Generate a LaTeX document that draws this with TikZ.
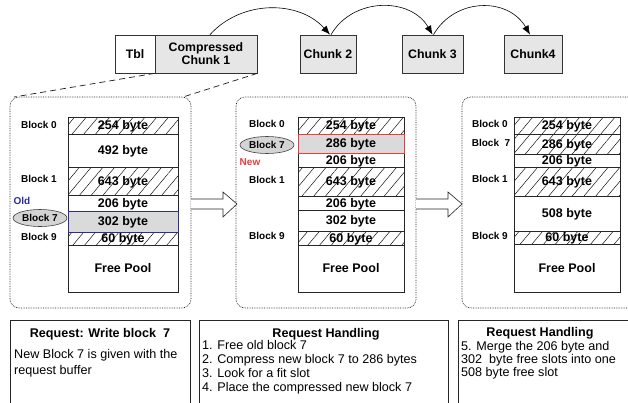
\documentclass[tikz,border=0pt]{standalone}
\usepackage{fontspec}
\setmainfont{Liberation Sans}
\usetikzlibrary{patterns.meta,arrows.meta,shapes.geometric}
\definecolor{boxgray}{HTML}{E6E6E6}
\definecolor{cellgray}{HTML}{DADADA}
\definecolor{ellgray}{HTML}{D4D4D4}
\definecolor{oldblue}{HTML}{2B2B9E}
\definecolor{newred}{HTML}{F03A3A}
\newcommand\memcell[7]{\node[cell,#6,minimum width={(#4-#2)*1pt},minimum height={(#5-#3)*1pt}] (#1) at ({(#2+#4)/2},{(#3+#5)/2}) {#7};}
\begin{document}
\begin{tikzpicture}[x=1pt,y=-1pt,
  chunk/.style={draw=black!80, line width=0.7pt, fill=boxgray, inner sep=0, align=center,
    font=\fontsize{12.3}{13}\selectfont\bfseries},
  panel/.style={draw=black!90, densely dotted, line width=0.7pt, rounded corners=9pt},
  cell/.style={draw=black!85, line width=0.6pt, inner sep=0,
    font=\fontsize{12.5}{12}\selectfont\bfseries, text height=8.9pt, text depth=0pt},
  hatch/.style={pattern={Lines[angle=50,distance=9pt,line width=0.45pt]}},
  plain/.style={fill=white},
  lbl/.style={font=\fontsize{10}{10}\selectfont\bfseries, inner sep=0, text height=7.2pt, text depth=0pt},
  blk/.style={ellipse, draw=black!75, line width=0.6pt, fill=ellgray, inner sep=0,
    minimum width=54pt, minimum height=17pt,
    font=\fontsize{10}{10}\selectfont\bfseries, text height=7.2pt, text depth=0pt},
  curve/.style={line width=0.6pt, -{Latex[length=9pt,width=7pt]}},
  zoomline/.style={dash pattern=on 6pt off 4pt, line width=0.7pt, draw=black!90},
  hollow/.style={draw=black!85, line width=0.6pt, fill=white},
  reqbox/.style={draw=black!85, line width=0.7pt},
  ttl/.style={font=\fontsize{12.6}{12}\selectfont\bfseries, inner sep=0, anchor=base},
  ln/.style={font=\fontsize{12.6}{12}\selectfont, inner sep=0, anchor=base west}]
\useasboundingbox (0,0) rectangle (628,402);
\clip (0,0) rectangle (628,402);

% top chunk boxes
\node[chunk, fill=white, minimum width=40pt, minimum height=38pt] (tbl) at (135,54) {Tbl};
\node[chunk, minimum width=102pt, minimum height=38pt] (c1) at (206,54) {Compressed\\Chunk 1};
\node[chunk, minimum width=56pt, minimum height=38pt] (c2) at (328,54) {Chunk 2};
\node[chunk, minimum width=61pt, minimum height=38pt] (c3) at (432.5,54) {Chunk 3};
\node[chunk, minimum width=58pt, minimum height=38pt] (c4) at (533,54) {Chunk4};

\draw[curve] ([xshift=4pt]c1.north) to[out=48,in=132] ([xshift=2pt]c2.north);
\draw[curve] ([xshift=3pt]c2.north) to[out=60,in=120,looseness=1.1] (c3.north);
\draw[curve] ([xshift=1pt]c3.north) to[out=60,in=120,looseness=1.15] ([xshift=-3pt]c4.north);

% panels
\draw[panel] (10,97) rectangle (191,308);
\draw[panel] (236,97) rectangle (416,308);
\draw[panel] (462,97) rectangle (640,308);
\coordinate (p1tl) at (14,97);
\coordinate (p1tr) at (183,97);
\draw[zoomline] (c1.south west) -- (p1tl);
\draw[zoomline] (c1.south east) -- (p1tr);

% panel 1 column
\memcell{a1}{68}{117}{178}{134}{hatch}{254 byte}
\memcell{a2}{68}{134}{178}{167}{plain}{492 byte}
\memcell{a3}{68}{167}{178}{195}{hatch}{643 byte}
\memcell{a4}{68}{195}{178}{211}{plain}{206 byte}
\memcell{a6}{68}{232}{178}{245}{hatch}{60 byte}
\memcell{a7}{68}{245}{178}{292}{plain}{Free Pool}
\memcell{a5}{68}{211}{178}{232}{fill=cellgray,draw=oldblue}{302 byte}
\node[lbl] (l10) at (39,125) {Block 0};
\node[lbl] (l11) at (39,179) {Block 1};
\node[lbl, text=oldblue] (old) at (22,201) {Old};
\node[blk] (l17) at (40,218) {Block 7};
\node[lbl] (l19) at (39,237) {Block 9};

% panel 2 column
\memcell{b1}{298}{117}{404}{134}{hatch}{254 byte}
\memcell{b3}{298}{153}{404}{167}{plain}{206 byte}
\memcell{b4}{298}{167}{404}{196}{hatch}{643 byte}
\memcell{b5}{298}{196}{404}{210}{plain}{206 byte}
\memcell{b6}{298}{210}{404}{231}{plain}{302 byte}
\memcell{b7}{298}{231}{404}{245}{hatch}{60 byte}
\memcell{b8}{298}{245}{404}{292}{plain}{Free Pool}
\memcell{b2}{298}{134}{404}{153}{fill=cellgray,draw=newred}{286 byte}
\node[lbl] (l20) at (267,124) {Block 0};
\node[blk] (l27) at (267,145) {Block 7};
\node[lbl, text=newred] (new) at (250,162) {New};
\node[lbl] (l21) at (267,180) {Block 1};
\node[lbl] (l29) at (267,236) {Block 9};

% panel 3 column
\memcell{d1}{514}{117}{620}{134}{hatch}{254 byte}
\memcell{d2}{514}{134}{620}{154}{hatch}{286 byte}
\memcell{d3}{514}{154}{620}{167}{plain}{206 byte}
\memcell{d4}{514}{167}{620}{196}{hatch}{643 byte}
\memcell{d5}{514}{196}{620}{231}{plain}{508 byte}
\memcell{d6}{514}{231}{620}{244}{hatch}{60 byte}
\memcell{d7}{514}{244}{620}{292}{plain}{Free Pool}
\node[lbl] (l30) at (490,124) {Block 0};
\node[lbl] (l37) at (491,143) {Block\ \ 7};
\node[lbl] (l31) at (490,179) {Block 1};
\node[lbl] (l39) at (490,236) {Block 9};

% hollow arrows between panels
\draw[hollow] (191,199) -- (223,199) -- (223,192) -- (237,204) -- (223,217) -- (223,209) -- (191,209);
\draw[hollow] (416,199) -- (448,199) -- (448,192) -- (462,204) -- (448,217) -- (448,209) -- (416,209);

% request boxes
\draw[reqbox] (10,320) rectangle (190,410);
\draw[reqbox] (199,320) rectangle (448,410);
\draw[reqbox] (458,320) rectangle (640,410);

\node[ttl] (t1) at (100,337) {Request: Write block\ \ 7};
\node[ln] (t1a) at (14,358) {New Block 7 is given with the};
\node[ln] (t1b) at (14,374) {request buffer};

\node[ttl] (t2) at (326,337) {Request Handling};
\node[ln] (t2a) at (202,349) {1. Free old block 7};
\node[ln] (t2b) at (202,363) {2. Compress new block 7 to 286 bytes};
\node[ln] (t2c) at (202,377) {3. Look for a fit slot};
\node[ln] (t2d) at (202,391) {4. Place the compressed new block 7};

\node[ttl] (t3) at (540,336) {Request Handling};
\node[ln] (t3a) at (461,350) {5. Merge the 206 byte and};
\node[ln] (t3b) at (461,363) {302\ \ byte free slots into one};
\node[ln] (t3c) at (461,376) {508 byte free slot};
\end{tikzpicture}
\end{document}
